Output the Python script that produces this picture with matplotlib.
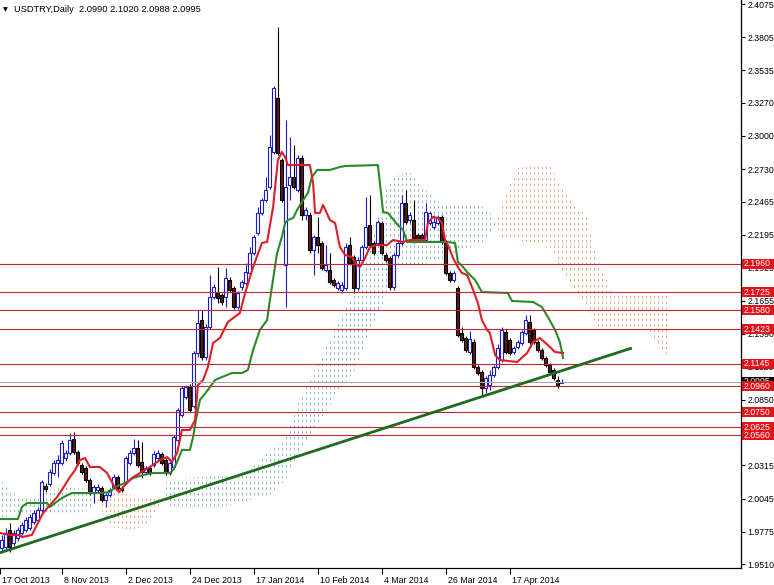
import numpy as np
import matplotlib
matplotlib.use('Agg')
import matplotlib.pyplot as plt
from matplotlib.path import Path
from matplotlib.patches import Rectangle
import matplotlib.transforms as mtransforms

# ---------------- data ----------------
opens = [1.9642, 1.9650, 1.9789, 1.9683, 1.9724, 1.9764, 1.9789, 1.9805, 1.9854, 1.9870,
         1.9952, 2.0147, 2.0164, 2.0254, 2.0335, 2.0335, 2.0376, 2.0416, 2.0530, 2.0425,
         2.0319, 2.0294, 2.0196, 2.0090, 2.0115, 2.0131, 2.0033, 2.0074, 2.0139, 2.0221,
         2.0131, 2.0180, 2.0335, 2.0416, 2.0457, 2.0343, 2.0261, 2.0294, 2.0319, 2.0376,
         2.0408, 2.0359, 2.0254, 2.0302, 2.0522, 2.0726, 2.0873, 2.0954, 2.0800, 2.1231,
         2.1500, 2.1199, 2.1443, 2.1688, 2.1720, 2.1704, 2.1688, 2.1826, 2.1761, 2.1606,
         2.1769, 2.1802, 2.1883, 2.2046, 2.2209, 2.2372, 2.2478, 2.2584, 2.2869, 2.3309,
         2.2804, 2.1948, 2.2600, 2.2666, 2.2560, 2.2821, 2.2356, 2.2356, 2.2071, 2.2177,
         2.2128, 2.1908, 2.1908, 2.1826, 2.1761, 2.1745, 2.1761, 2.2111, 2.2013, 2.1761,
         2.1989, 2.2095, 2.2274, 2.2128, 2.2128, 2.2291, 2.2030, 2.2005, 2.1769, 2.2030,
         2.2128, 2.2454, 2.2315, 2.2315, 2.2193, 2.2193, 2.2152, 2.2291, 2.2258, 2.2291,
         2.2340, 2.2136, 2.1883, 2.1826, 2.1761, 2.1394, 2.1353, 2.1240, 2.1321, 2.1117,
         2.1076, 2.0946, 2.0970, 2.1052, 2.1117, 2.1174, 2.1402, 2.1337, 2.1239, 2.1280,
         2.1313, 2.1394, 2.1484, 2.1419, 2.1321, 2.1256, 2.1190, 2.1133, 2.1093, 2.1011,
         2.0990]
highs = [1.9748, 1.9805, 1.9846, 1.9789, 1.9813, 1.9854, 1.9895, 1.9919, 1.9952, 1.9976,
         2.0196, 2.0172, 2.0286, 2.0359, 2.0400, 2.0522, 2.0441, 2.0580, 2.0588, 2.0441,
         2.0335, 2.0310, 2.0213, 2.0155, 2.0164, 2.0147, 2.0090, 2.0131, 2.0245, 2.0237,
         2.0147, 2.0392, 2.0441, 2.0530, 2.0522, 2.0506, 2.0310, 2.0310, 2.0433, 2.0441,
         2.0425, 2.0376, 2.0351, 2.0563, 2.0783, 2.0962, 2.0970, 2.0978, 2.1248, 2.1582,
         2.1582, 2.1468, 2.1867, 2.1794, 2.1932, 2.1720, 2.1924, 2.1851, 2.1777, 2.1737,
         2.1826, 2.1965, 2.2095, 2.2193, 2.2421, 2.2494, 2.2666, 2.3008, 2.3407, 2.3888,
         2.2820, 2.3130, 2.2991, 2.2926, 2.2845, 2.2845, 2.2421, 2.2380, 2.2193, 2.2340,
         2.2144, 2.2111, 2.2046, 2.1843, 2.1818, 2.1810, 2.2128, 2.2177, 2.2030, 2.2013,
         2.2111, 2.2503, 2.2519, 2.2144, 2.2315, 2.2307, 2.2046, 2.2021, 2.2046, 2.2144,
         2.2519, 2.2560, 2.2380, 2.2478, 2.2209, 2.2209, 2.2454, 2.2388, 2.2356, 2.2356,
         2.2356, 2.2152, 2.1900, 2.1900, 2.1777, 2.1443, 2.1370, 2.1410, 2.1345, 2.1133,
         2.1093, 2.1044, 2.1093, 2.1133, 2.1305, 2.1443, 2.1427, 2.1353, 2.1288, 2.1337,
         2.1419, 2.1541, 2.1541, 2.1435, 2.1337, 2.1272, 2.1207, 2.1150, 2.1109, 2.1044,
         2.1020]
lows = [1.9610, 1.9626, 1.9610, 1.9658, 1.9699, 1.9748, 1.9772, 1.9789, 1.9838, 1.9854,
        1.9935, 2.0098, 2.0147, 2.0237, 2.0221, 2.0319, 2.0351, 2.0400, 2.0408, 2.0319,
        2.0245, 2.0180, 2.0074, 2.0009, 2.0098, 2.0017, 1.9976, 2.0058, 2.0123, 2.0115,
        2.0098, 2.0164, 2.0319, 2.0400, 2.0302, 2.0213, 2.0245, 2.0237, 2.0302, 2.0359,
        2.0319, 2.0237, 2.0237, 2.0286, 2.0506, 2.0710, 2.0857, 2.0750, 2.0783, 2.1199,
        2.1174, 2.1174, 2.1427, 2.1672, 2.1639, 2.1623, 2.1606, 2.1729, 2.1590, 2.1590,
        2.1745, 2.1786, 2.1867, 2.2030, 2.2193, 2.2356, 2.2462, 2.2568, 2.2853, 2.2845,
        2.2462, 2.1606, 2.2478, 2.2568, 2.2543, 2.2315, 2.2315, 2.2046, 2.1867, 2.2046,
        2.1908, 2.1891, 2.1794, 2.1769, 2.1745, 2.1720, 2.1745, 2.1948, 2.1720, 2.1745,
        2.1973, 2.2079, 2.2095, 2.2030, 2.2111, 2.2030, 2.1973, 2.1745, 2.1745, 2.2013,
        2.2111, 2.2283, 2.2291, 2.2128, 2.2136, 2.2136, 2.2136, 2.2274, 2.2242, 2.2274,
        2.2120, 2.1867, 2.1810, 2.1810, 2.1362, 2.1321, 2.1240, 2.1223, 2.1101, 2.1052,
        2.0873, 2.0905, 2.0930, 2.1036, 2.1101, 2.1158, 2.1223, 2.1215, 2.1223, 2.1264,
        2.1296, 2.1378, 2.1305, 2.1305, 2.1240, 2.1174, 2.1117, 2.1060, 2.1011, 2.0946,
        2.0988]
closes = [1.9707, 1.9764, 1.9650, 1.9764, 1.9789, 1.9830, 1.9870, 1.9895, 1.9927, 1.9952,
          2.0180, 2.0123, 2.0261, 2.0335, 2.0359, 2.0498, 2.0416, 2.0522, 2.0425, 2.0335,
          2.0261, 2.0196, 2.0090, 2.0139, 2.0139, 2.0033, 2.0074, 2.0115, 2.0221, 2.0131,
          2.0115, 2.0376, 2.0416, 2.0457, 2.0319, 2.0261, 2.0294, 2.0254, 2.0408, 2.0416,
          2.0335, 2.0254, 2.0335, 2.0547, 2.0767, 2.0946, 2.0954, 2.0767, 2.1231, 2.1476,
          2.1199, 2.1443, 2.1688, 2.1769, 2.1680, 2.1647, 2.1843, 2.1745, 2.1606, 2.1720,
          2.1810, 2.1891, 2.2046, 2.2177, 2.2372, 2.2478, 2.2560, 2.2910, 2.3391, 2.2861,
          2.2478, 2.2584, 2.2666, 2.2584, 2.2821, 2.2356, 2.2397, 2.2071, 2.2177, 2.2111,
          2.1924, 2.1948, 2.1810, 2.1786, 2.1802, 2.1786, 2.2095, 2.1965, 2.1761, 2.1989,
          2.2095, 2.2258, 2.2111, 2.2046, 2.2299, 2.2046, 2.1989, 2.1769, 2.2030, 2.2128,
          2.2454, 2.2299, 2.2356, 2.2152, 2.2152, 2.2152, 2.2380, 2.2372, 2.2299, 2.2340,
          2.2136, 2.1883, 2.1826, 2.1883, 2.1378, 2.1337, 2.1256, 2.1345, 2.1117, 2.1068,
          2.0946, 2.1027, 2.1052, 2.1117, 2.1272, 2.1419, 2.1240, 2.1231, 2.1272, 2.1321,
          2.1402, 2.1500, 2.1321, 2.1321, 2.1256, 2.1190, 2.1133, 2.1076, 2.1027, 2.0970,
          2.0995]

# Tenkan-sen (red) vertices: bar index, price
tenkan_x = [0.6, 3.1, 5.6, 6.1, 8.6, 10.1, 11.4, 13.1, 14.9, 16.4, 18.1, 19.4, 20.6, 21.9,
            23.1, 25.6, 27.4, 29.4, 30.4, 31.4, 33.6, 35.6, 38.1, 40.6, 42.4, 43.6, 44.9,
            46.1, 48.1, 49.4, 50.1, 51.4, 52.6, 53.9, 55.6, 57.6, 60.6, 61.9, 63.9, 66.1,
            67.4, 68.9, 70.1, 71.1, 71.9, 72.6, 78.1, 78.9, 79.4, 80.6, 81.4, 83.1, 84.4,
            85.6, 86.9, 88.6, 89.9, 90.6, 91.9, 93.1, 94.9, 97.4, 98.9, 101.4, 103.1, 106.9,
            107.6, 108.9, 110.1, 111.1, 111.9, 112.6, 113.9, 115.1, 116.1, 117.4, 118.9,
            120.1, 121.1, 122.4, 123.1, 124.4, 125.6, 129.9, 132.4, 133.9, 135.6, 137.6,
            139.4, 141.4]
tenkan_y = [1.9764, 1.9748, 1.9748, 1.9731, 1.9748, 1.9846, 1.9927, 1.9992, 2.0057, 2.0131,
            2.0220, 2.0277, 2.0359, 2.0375, 2.0302, 2.0302, 2.0253, 2.0131, 2.0098, 2.0139,
            2.0212, 2.0253, 2.0302, 2.0359, 2.0383, 2.0343, 2.0416, 2.0604, 2.0604, 2.0685,
            2.0970, 2.1011, 2.1117, 2.1313, 2.1353, 2.1484, 2.1557, 2.1720, 2.1932, 2.2128,
            2.2136, 2.2421, 2.2804, 2.2869, 2.2828, 2.2763, 2.2763, 2.2617, 2.2372, 2.2372,
            2.2437, 2.2315, 2.2291, 2.2095, 2.2030, 2.2013, 2.1948, 2.1932, 2.2005, 2.2095,
            2.2111, 2.2111, 2.2152, 2.2136, 2.2152, 2.2152, 2.2291, 2.2340, 2.2331, 2.2291,
            2.2152, 2.2111, 2.2005, 2.1932, 2.1883, 2.1867, 2.1745, 2.1639, 2.1500, 2.1419,
            2.1394, 2.1215, 2.1174, 2.1158, 2.1231, 2.1321, 2.1353, 2.1296, 2.1239, 2.1231]

# Kijun-sen (green) vertices
kijun_x = [0.6, 5.1, 6.1, 7.4, 12.4, 13.1, 14.4, 16.1, 17.6, 18.6, 25.6, 28.1, 29.4, 31.9,
           33.9, 36.4, 38.9, 43.1, 43.9, 44.9, 46.1, 48.1, 48.9, 49.6, 50.6, 52.6, 54.4,
           56.1, 58.6, 61.1, 62.6, 63.9, 65.6, 67.4, 68.1, 69.9, 71.1, 71.9, 72.6, 73.9,
           74.9, 76.1, 77.6, 78.6, 79.9, 83.1, 85.6, 86.9, 95.1, 96.4, 97.6, 100.1, 101.4,
           102.4, 112.4, 114.4, 115.1, 116.4, 117.4, 119.4, 121.1, 127.6, 128.6, 133.9,
           136.1, 137.6, 139.4, 140.6, 141.4]
kijun_y = [1.9878, 1.9878, 1.9976, 2.0009, 2.0009, 1.9976, 2.0009, 2.0049, 2.0074, 2.0090,
           2.0090, 2.0098, 2.0139, 2.0172, 2.0212, 2.0237, 2.0253, 2.0253, 2.0277, 2.0343,
           2.0441, 2.0441, 2.0546, 2.0685, 2.0848, 2.0930, 2.1011, 2.1035, 2.1068, 2.1068,
           2.1093, 2.1256, 2.1419, 2.1500, 2.1663, 2.2046, 2.2177, 2.2291, 2.2315, 2.2331,
           2.2397, 2.2462, 2.2535, 2.2666, 2.2723, 2.2723, 2.2747, 2.2755, 2.2763, 2.2380,
           2.2372, 2.2274, 2.2234, 2.2136, 2.2136, 2.2128, 2.1973, 2.1932, 2.1891, 2.1826,
           2.1728, 2.1720, 2.1655, 2.1647, 2.1606, 2.1525, 2.1419, 2.1321, 2.1190]

# Ichimoku cloud (Senkou span A / B), shifted 26 bars ahead
cloud_x = [0.6, 4.4, 8.1, 12.4, 17.4, 23.1, 24.9, 28.1, 33.9, 38.1, 40.6, 41.4, 42.4, 50.6,
           58.1, 63.1, 68.1, 71.9, 75.6, 80.6, 85.6, 89.4, 93.1, 96.9, 99.4, 103.1, 105.6,
           110.6, 115.6, 120.6, 123.1, 124.6, 126.4, 129.9, 138.1, 140.6, 143.1, 147.4,
           149.9, 153.9, 163.1, 164.4, 167.4]
span_a = [2.0196, 2.0074, 2.0033, 2.0115, 2.0139, 2.0115, 2.0033, 1.9813, 1.9789, 1.9846,
          1.9992, 2.0033, 2.0196, 2.0220, 2.0237, 2.0278, 2.0441, 2.0522, 2.0848, 2.1174,
          2.1500, 2.1745, 2.2071, 2.2560, 2.2682, 2.2706, 2.2600, 2.2454, 2.2437, 2.2437,
          2.2380, 2.2282, 2.2152, 2.2152, 2.2095, 2.1924, 2.1802, 2.1606, 2.1443, 2.1443,
          2.1419, 2.1313, 2.1215]
span_b = [1.9886, 1.9911, 1.9935, 1.9911, 1.9911, 1.9952, 2.0033, 2.0098, 2.0074, 2.0057,
          2.0033, 2.0033, 1.9992, 1.9952, 1.9992, 2.0033, 2.0074, 2.0196, 2.0441, 2.0685,
          2.0930, 2.1093, 2.1419, 2.1663, 2.1908, 2.1948, 2.1948, 2.1989, 2.2071, 2.2111,
          2.2193, 2.2282, 2.2478, 2.2739, 2.2763, 2.2617, 2.2478, 2.2340, 2.1989, 2.1720,
          2.1720, 2.1720, 2.1720]

# Trend line anchors
trend_x = [0.6, 158.6]
trend_y = [1.9603, 2.1272]

# Horizontal support / resistance levels and current bid
levels = [2.1960, 2.1725, 2.1580, 2.1423, 2.1145, 2.0960, 2.0750, 2.0625, 2.0560]
bid = 2.0995

ytick_vals = [2.4075, 2.3805, 2.3535, 2.3270, 2.3000, 2.2730, 2.2465, 2.2195, 2.1925,
              2.1655, 2.1390, 2.1120, 2.0850, 2.0580, 2.0315, 2.0045, 1.9775, 1.9510]
xtick_idx = [0, 16, 32, 48, 64, 80, 96, 112, 128]
xtick_labels = ['17 Oct 2013', '8 Nov 2013', '2 Dec 2013', '24 Dec 2013', '17 Jan 2014',
                '10 Feb 2014', '4 Mar 2014', '26 Mar 2014', '17 Apr 2014']
title_text = 'USDTRY,Daily  2.0990 2.1020 2.0988 2.0995'

# ---------------- style ----------------
FONT = 'Liberation Sans'
BULL = '#1C1CC0'
BEAR = '#5E1A16'
RED = '#DC1E26'
KIJUN = '#2A8A2A'
TREND = '#1E6A1E'
HLINE = '#C4262E'
LABEL_RED = '#E3131B'
TEAL = '#86B9B9'
ORANGE = '#F0A678'

W, H = 774, 585
fig = plt.figure(figsize=(W / 100, H / 100), dpi=100)
fig.patch.set_facecolor('white')
ax = fig.add_axes([0, 17 / H, 741 / W, 568 / H])
x0 = 0.625
ax.set_xlim(x0, x0 + 741 / 4)
ax.set_ylim(1.9479, 2.4108)

for s in ['left', 'top']:
    ax.spines[s].set_visible(False)
for s in ['right', 'bottom']:
    ax.spines[s].set_linewidth(0.9)
    ax.spines[s].set_color('black')

# ---------------- cloud ----------------
cx = np.array(cloud_x)
sa = np.array(span_a)
sb = np.array(span_b)
bar_positions = np.arange(1, int(cx.max()) + 1)
ylo, yhi = ax.get_ylim()
for cond, col in [(sa >= sb, TEAL), (sa <= sb, ORANGE)]:
    poly = ax.fill_between(cx, sa, sb, where=cond, interpolate=True,
                           facecolor='none', edgecolor='none')
    paths = poly.get_paths()
    if not paths:
        continue
    cpath = Path.make_compound_path(*paths)
    vl = ax.vlines(bar_positions, ylo, yhi, colors=col, linewidth=0.75,
                   linestyles=[(0, (2.2, 3.2))], zorder=1)
    vl.set_clip_path(cpath, ax.transData)

# ---------------- candles ----------------
o = np.array(opens); hh = np.array(highs); ll = np.array(lows); c = np.array(closes)
xb = np.arange(1, len(o) + 1)
up = c >= o
ax.vlines(xb[up], ll[up], hh[up], color=BULL, linewidth=0.8, zorder=3)
ax.vlines(xb[~up], ll[~up], hh[~up], color='black', linewidth=0.8, zorder=3)
ax.bar(xb[up], (c - o)[up], bottom=o[up], width=0.6, facecolor='white',
       edgecolor=BULL, linewidth=0.8, zorder=3.2)
ax.bar(xb[~up], (c - o)[~up], bottom=o[~up], width=0.6, facecolor=BEAR,
       edgecolor='black', linewidth=0.8, zorder=3.2)

# ---------------- indicator lines ----------------
ax.plot(kijun_x, kijun_y, color=KIJUN, linewidth=1.5, zorder=4,
        solid_joinstyle='round')
ax.plot(tenkan_x, tenkan_y, color=RED, linewidth=1.5, zorder=4.2,
        solid_joinstyle='round')

# ---------------- horizontal levels ----------------
for lv in levels:
    ax.axhline(lv, color=HLINE, linewidth=0.8, zorder=4.5)
ax.axhline(bid, color='#A8A8A8', linewidth=0.8, zorder=4.4)

# trend line
ax.plot(trend_x, trend_y, color=TREND, linewidth=2.0, zorder=5,
        solid_capstyle='butt')

# ---------------- axes ticks ----------------
ax.yaxis.tick_right()
ax.set_yticks(ytick_vals)
ax.set_yticklabels([f'{v:.4f}' for v in ytick_vals], fontfamily=FONT, fontsize=6.3)
ax.tick_params(axis='y', direction='out', length=3, width=0.8, pad=1.5, colors='black')

xt_pos = [max(v, x0) for v in xtick_idx]
ax.set_xticks(xt_pos)
ax.set_xticklabels(xtick_labels, fontfamily=FONT, fontsize=6.3)
ax.tick_params(axis='x', direction='out', length=4, width=0.8, pad=1.5, colors='black')
offset = mtransforms.ScaledTranslation(2 / 100, 0, fig.dpi_scale_trans)
for lbl in ax.get_xticklabels():
    lbl.set_horizontalalignment('left')
    lbl.set_transform(lbl.get_transform() + offset)

# ---------------- price label boxes on right axis ----------------
blend = mtransforms.blended_transform_factory(ax.transAxes, ax.transData)
box_h = 10 / 1227.0
ax_w_px = 741.0
box_items = [(bid, 'black')] + [(lv, LABEL_RED) for lv in levels]
order = [box_items[0]] + sorted(box_items[1:], key=lambda t: -t[0])
z = 10
for val, col in order:
    ax.add_patch(Rectangle((1.0 + 1 / ax_w_px, val - box_h / 2), 33 / ax_w_px, box_h,
                           transform=blend, facecolor=col, edgecolor='none',
                           clip_on=False, zorder=z))
    ax.text(1.0 + 3 / ax_w_px, val, f'{val:.4f}', transform=blend, ha='left',
            va='center', color='white', fontsize=6.3, fontfamily=FONT,
            clip_on=False, zorder=z + 1)
    z += 2

# ---------------- title ----------------
fig.text(3 / W, 1 - 9.5 / H, '\u25BC', fontsize=4.5, fontfamily='DejaVu Sans',
         va='center', ha='left', color='black')
fig.text(14 / W, 1 - 9.5 / H, title_text, fontsize=6.7, fontfamily=FONT,
         va='center', ha='left', color='black')

fig.savefig('out.png', dpi=100, facecolor='white')
